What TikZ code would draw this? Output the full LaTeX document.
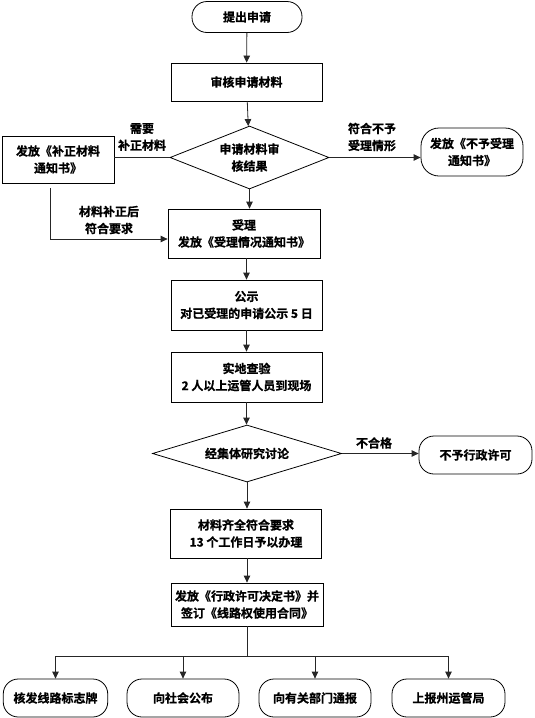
\documentclass[tikz,border=0pt]{standalone}
\usepackage{fontspec}
\setmainfont{Noto Sans CJK SC}[BoldFont={* Bold},BoldFeatures={FakeBold=0.8}]
\usetikzlibrary{arrows.meta,shapes.geometric}
\begin{document}
\begin{tikzpicture}[x=1pt,y=-1pt,
  font=\fontsize{12pt}{17pt}\selectfont\bfseries,
  line width=0.8pt,
  box/.style={draw=black,line width=0.8pt,rectangle,inner sep=0pt,align=center,minimum width=#1},
  stadium/.style={draw=black,line width=0.8pt,rectangle,rounded corners=15pt,inner sep=0pt,align=center,minimum width=#1},
  dia/.style={draw=black,line width=0.8pt,diamond,inner sep=0pt,align=center},
  lbl/.style={inner sep=0pt,align=center},
  arr/.style={draw=black!85,-{Triangle[length=7pt,width=6.5pt]}},
  ln/.style={draw=black!85}]
\useasboundingbox (0,0) rectangle (535,718);

\node[stadium=110pt,minimum height=31pt] (start) at (247,17) {提出申请};
\node[box=151pt,minimum height=38pt] (n1) at (246.5,82) {审核申请材料};
\node[dia,minimum width=159pt,minimum height=63pt,aspect=2.5] (d1) at (249.5,157.5) {申请材料审\\核结果};
\node[box=112pt,minimum height=47pt] (lb) at (58,159.5) {发放《补正材料\\通知书》};
\node[stadium=102pt,minimum height=48pt,rounded corners=18pt] (rb) at (472,152) {发放《不予受理\\通知书》};
\node[box=152pt,minimum height=49pt] (sl) at (244,233.5) {受理\\发放《受理情况通知书》};
\node[box=151pt,minimum height=50pt] (gs) at (246.5,305) {公示\\对已受理的申请公示 5 日};
\node[box=151pt,minimum height=50pt] (sd) at (246.5,377) {实地查验\\2 人以上运管人员到现场};
\node[dia,minimum width=189pt,minimum height=57pt,aspect=3.3] (d2) at (247,453.5) {经集体研究讨论};
\node[stadium=113pt,minimum height=38pt] (bx) at (475.5,455) {不予行政许可};
\node[box=150.5pt,minimum height=49pt] (cl) at (246,533.5) {材料齐全符合要求\\13 个工作日予以办理};
\node[box=152pt,minimum height=43pt] (ff) at (247,604.5) {发放《行政许可决定书》并\\签订《线路权使用合同》};

\node[stadium=104.5pt,minimum height=38pt] (o1) at (55.5,698) {核发线路标志牌};
\node[stadium=112pt,minimum height=38pt] (o2) at (183,698) {向社会公布};
\node[stadium=112pt,minimum height=38pt] (o3) at (315,698) {向有关部门通报};
\node[stadium=113pt,minimum height=38pt] (o4) at (448.5,698) {上报州运管局};

\node[lbl] (l1) at (142,137) {需要\\补正材料};
\node[lbl] (l2) at (372,137) {符合不予\\受理情形};
\node[lbl] (l3) at (109,220) {材料补正后\\符合要求};
\node[lbl] (l4) at (374,443) {不合格};

\coordinate (c1) at (50.5,188);
\coordinate (c2) at (50.5,239);
\coordinate (c3) at (247,656);
\coordinate (c4) at (55.5,656);
\coordinate (c5) at (448.5,656);

\draw[arr] (start) -- (n1);
\draw[arr] (n1) -- (d1);
\draw[ln] (d1.west) -- (d1.west -| lb.east);
\draw[arr] (d1.east) -- (d1.east -| rb.west);
\draw[arr] (d1.south) -- (d1.south |- sl.north);
\draw[arr] (c1) -- (c2) -- (c2 -| sl.west);
\draw[arr] (sl.south -| gs.north) -- (gs.north);
\draw[arr] (gs) -- (sd);
\draw[arr] (sd.south) -- (sd.south |- d2.north);
\draw[arr] (d2.east) -- (d2.east -| bx.west);
\draw[arr] (d2.south) -- (d2.south |- cl.north);
\draw[arr] (cl.south -| ff.north) -- (ff.north);
\draw[ln] (ff.south) -- (c3);
\draw[ln] (c4) -- (c5);
\draw[arr] (c4) -- (o1.north);
\draw[arr] (c4 -| o2.north) -- (o2.north);
\draw[arr] (c4 -| o3.north) -- (o3.north);
\draw[arr] (c5) -- (o4.north);
\end{tikzpicture}
\end{document}
